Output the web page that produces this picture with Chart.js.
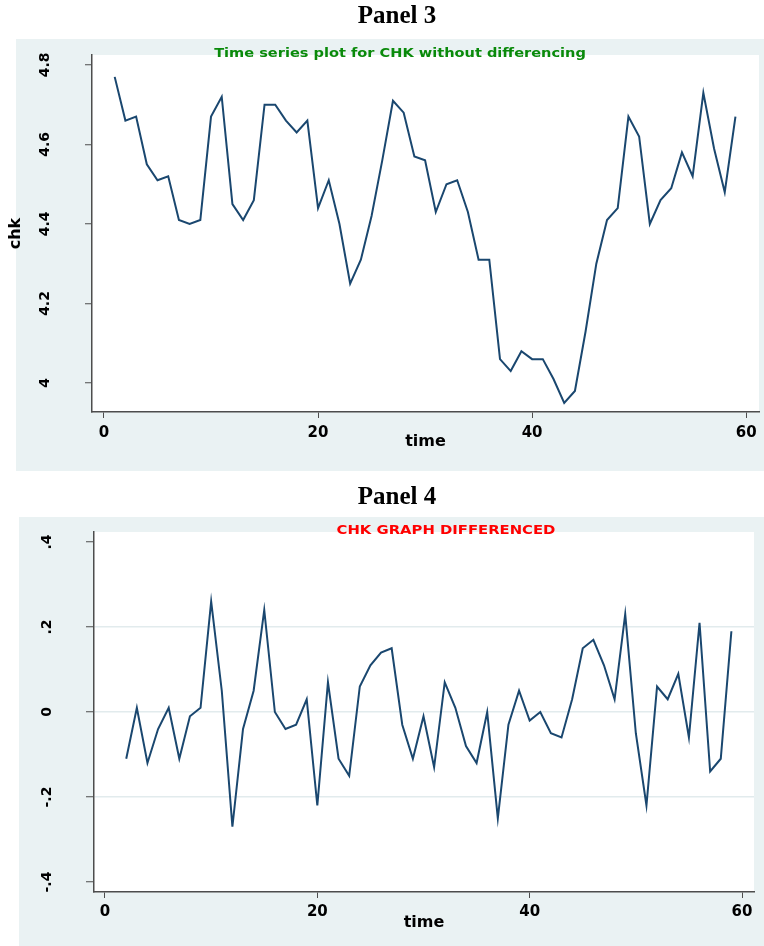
<!DOCTYPE html>
<html>
<head>
<meta charset="utf-8">
<script src="https://cdn.jsdelivr.net/npm/chart.js@4.4.1/dist/chart.umd.min.js"></script>
<style>
  html, body { margin: 0; padding: 0; background: #ffffff; }
  #page { position: relative; width: 764px; height: 946px; overflow: hidden; }
  canvas { position: absolute; left: 0; }
  .panel-head {
    position: absolute; left: 0; width: 794px; text-align: center;
    font-family: "Liberation Serif", serif; font-weight: bold; font-size: 25px;
    line-height: 30px; color: #000; z-index: 2;
  }
</style>
</head>
<body>
<div id="page">
  <div class="panel-head" style="top:0px">Panel 3</div>
  <canvas id="panel3" width="764" height="473" style="top:0px"></canvas>
  <div class="panel-head" style="top:481px">Panel 4</div>
  <canvas id="panel4" width="764" height="473" style="top:473px"></canvas>
</div>
<script>
// ---- data ----
const timeLevel = [1, 2, 3, 4, 5, 6, 7, 8, 9, 10, 11, 12, 13, 14, 15, 16, 17, 18, 19, 20,
  21, 22, 23, 24, 25, 26, 27, 28, 29, 30, 31, 32, 33, 34, 35, 36, 37, 38, 39, 40,
  41, 42, 43, 44, 45, 46, 47, 48, 49, 50, 51, 52, 53, 54, 55, 56, 57, 58, 59];
const chkLevel = [4.77, 4.66, 4.67, 4.55, 4.51, 4.52, 4.41, 4.40, 4.41, 4.67,
  4.72, 4.45, 4.41, 4.46, 4.70, 4.70, 4.66, 4.63, 4.66, 4.44,
  4.51, 4.40, 4.25, 4.31, 4.42, 4.56, 4.71, 4.68, 4.57, 4.56,
  4.43, 4.50, 4.51, 4.43, 4.31, 4.31, 4.06, 4.03, 4.08, 4.06,
  4.06, 4.01, 3.95, 3.98, 4.13, 4.30, 4.41, 4.44, 4.67, 4.62,
  4.40, 4.46, 4.49, 4.58, 4.52, 4.73, 4.59, 4.48, 4.67];

const timeDiff = [2, 3, 4, 5, 6, 7, 8, 9, 10, 11, 12, 13, 14, 15, 16, 17, 18, 19, 20,
  21, 22, 23, 24, 25, 26, 27, 28, 29, 30, 31, 32, 33, 34, 35, 36, 37, 38, 39, 40,
  41, 42, 43, 44, 45, 46, 47, 48, 49, 50, 51, 52, 53, 54, 55, 56, 57, 58, 59];
const chkDiff = [-0.11, 0.01, -0.12, -0.04, 0.01, -0.11, -0.01, 0.01, 0.26,
  0.05, -0.27, -0.04, 0.05, 0.24, 0.00, -0.04, -0.03, 0.03, -0.22,
  0.07, -0.11, -0.15, 0.06, 0.11, 0.14, 0.15, -0.03, -0.11, -0.01,
  -0.13, 0.07, 0.01, -0.08, -0.12, 0.00, -0.25, -0.03, 0.05, -0.02,
  0.00, -0.05, -0.06, 0.03, 0.15, 0.17, 0.11, 0.03, 0.23, -0.05,
  -0.22, 0.06, 0.03, 0.09, -0.06, 0.21, -0.14, -0.11, 0.19];

const timeTicks = [0, 20, 40, 60];
const timeTickLabels = ['0', '20', '40', '60'];
const levelTicks = [4.0, 4.2, 4.4, 4.6, 4.8];
const levelTickLabels = ['4', '4.2', '4.4', '4.6', '4.8'];
const diffTicks = [-0.4, -0.2, 0, 0.2, 0.4];
const diffTickLabels = ['-.4', '-.2', '0', '.2', '.4'];

// ---- styling ----
const LINE_COLOR = '#1a476f';
const AXIS_COLOR = '#4d4d4d';
const BG_GREY = '#eaf2f3';
const GRID_COLOR = '#e2ebed';
const xTickFont = { family: '"DejaVu Sans", sans-serif', weight: 'bold', size: 15 };
const yTickFont = { family: '"DejaVu Sans", sans-serif', weight: 'bold', size: 14 };
const titleFont = { family: '"DejaVu Sans", sans-serif', weight: 'bold', size: 16 };

// Grey graph region, white plot region and the small heading inside the graph.
const framePlugin = {
  id: 'stataFrame',
  beforeDraw(chart, args, opts) {
    const ctx = chart.ctx;
    const a = chart.chartArea;
    ctx.save();
    ctx.fillStyle = BG_GREY;
    ctx.fillRect(opts.box[0], opts.box[1], opts.box[2], opts.box[3]);
    ctx.fillStyle = '#ffffff';
    ctx.fillRect(a.left, a.top, a.right - a.left, a.bottom - a.top);
    ctx.restore();
  },
  afterDraw(chart, args, opts) {
    const ctx = chart.ctx;
    ctx.save();
    ctx.font = 'bold 13px "DejaVu Sans", sans-serif';
    ctx.fillStyle = opts.color;
    ctx.textAlign = 'center';
    ctx.textBaseline = 'middle';
    ctx.translate(opts.titleX, opts.titleY);
    ctx.scale(opts.stretch, 1);
    ctx.fillText(opts.text, 0, 0);
    ctx.restore();
  }
};

function pointsOf(xs, ys) {
  return xs.map((x, i) => ({ x: x, y: ys[i] }));
}

function makePanel(id, cfg) {
  return new Chart(document.getElementById(id), {
    type: 'line',
    data: {
      datasets: [{
        data: pointsOf(cfg.xs, cfg.ys),
        borderColor: LINE_COLOR,
        borderWidth: 2,
        pointRadius: 0,
        tension: 0,
        fill: false
      }]
    },
    options: {
      responsive: false,
      animation: false,
      layout: { padding: { top: cfg.padTop, right: cfg.padRight, bottom: 0, left: 0 } },
      plugins: {
        legend: { display: false },
        tooltip: { enabled: false },
        stataFrame: cfg.frame
      },
      scales: {
        x: {
          type: 'linear',
          min: cfg.xMin, max: cfg.xMax,
          afterBuildTicks: s => { s.ticks = timeTicks.map(v => ({ value: v })); },
          afterFit: s => { s.height = cfg.xHeight; },
          ticks: {
            font: xTickFont, color: '#000', padding: cfg.xTickPad, maxRotation: 0,
            callback: v => timeTickLabels[timeTicks.indexOf(v)]
          },
          grid: { drawOnChartArea: false, tickLength: 6, tickColor: AXIS_COLOR, tickWidth: 1 },
          border: { display: true, color: AXIS_COLOR, width: 1.5 },
          title: { display: true, text: 'time', font: titleFont, color: '#000', padding: { top: 0, bottom: cfg.xTitlePad } }
        },
        y: {
          type: 'linear',
          min: cfg.yMin, max: cfg.yMax,
          afterBuildTicks: s => { s.ticks = cfg.yTicks.map(v => ({ value: v })); },
          afterFit: s => { s.width = cfg.yWidth; },
          ticks: {
            font: yTickFont, color: '#000', padding: cfg.yTickPad,
            minRotation: 90, maxRotation: 90, crossAlign: 'center',
            callback: v => cfg.yLabels[cfg.yTicks.findIndex(t => Math.abs(t - v) < 1e-9)]
          },
          grid: {
            drawOnChartArea: cfg.grid,
            color: c => (c.tick && Math.abs(c.tick.value) < 0.3) ? GRID_COLOR : 'rgba(0,0,0,0)',
            lineWidth: 1.5,
            tickLength: cfg.yTickLen, tickColor: AXIS_COLOR, tickWidth: 1
          },
          border: { display: true, color: AXIS_COLOR, width: 1.5 },
          title: { display: cfg.yTitle !== '', text: cfg.yTitle, font: titleFont, color: '#000', padding: { top: 6, bottom: 0 } }
        }
      }
    },
    plugins: [framePlugin]
  });
}

// Panel 3: level of CHK
makePanel('panel3', {
  xs: timeLevel, ys: chkLevel,
  xMin: -1.121, xMax: 61.2,
  yMin: 3.927, yMax: 4.825,
  yTicks: levelTicks, yLabels: levelTickLabels,
  padTop: 55, padRight: 5,
  xHeight: 61, yWidth: 92,
  xTickPad: 6, yTickPad: 27, yTickLen: 7,
  xTitlePad: 22, yTitle: 'chk', grid: false,
  frame: { box: [16, 39, 748, 432], text: 'Time series plot for CHK without differencing',
           color: '#0a8a0a', titleX: 400, titleY: 54, stretch: 1.12 }
});

// Panel 4: first difference of CHK
makePanel('panel4', {
  xs: timeDiff, ys: chkDiff,
  xMin: -1.036, xMax: 61.13,
  yMin: -0.4235, yMax: 0.4235,
  yTicks: diffTicks, yLabels: diffTickLabels,
  padTop: 59, padRight: 10,
  xHeight: 54, yWidth: 94,
  xTickPad: 5, yTickPad: 28, yTickLen: 8,
  xTitlePad: 14, yTitle: '', grid: true,
  frame: { box: [19, 44, 745, 429], text: 'CHK GRAPH DIFFERENCED',
           color: '#ff0000', titleX: 446, titleY: 58, stretch: 1.14 }
});
</script>
</body>
</html>
